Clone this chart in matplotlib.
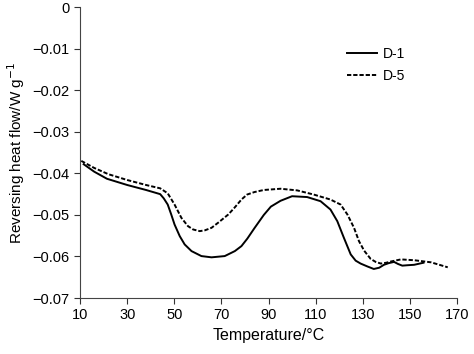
import matplotlib.pyplot as plt

plt.rcParams['font.family'] = ['Liberation Sans', 'DejaVu Sans']

# D-1 (solid)
tempD1 = [11.5, 16, 21.4, 30, 38, 44, 45.5, 47.2, 48.7, 50.1, 52.3, 54.4, 57.3, 61.5, 65.8,
          71.4, 75.7, 78.5, 81, 84, 88, 91, 95.1, 100, 106.4, 112.1, 116.3, 119.2, 122,
          124.9, 127, 129.1, 132, 134.7, 137, 139, 141, 143.3, 145, 146.8, 149, 151.8, 155.8]
flowD1 = [-0.0378, -0.0396, -0.0413, -0.0428, -0.0440, -0.0450, -0.0460, -0.0475, -0.0499, -0.0523,
          -0.0551, -0.0571, -0.0587, -0.0599, -0.0602,
          -0.0599, -0.0587, -0.0575, -0.0557, -0.0532, -0.0500, -0.0480, -0.0466, -0.0455, -0.0457,
          -0.0467, -0.0487, -0.0515, -0.0555,
          -0.0595, -0.0610, -0.0617, -0.0624, -0.0630, -0.0627, -0.0620, -0.0616, -0.0613, -0.0618,
          -0.0622, -0.0621, -0.0620, -0.0615]

# D-5 (dashed)
tempD5 = [10.5, 16, 22, 30, 38, 44, 47.2, 50.1, 53, 55.8, 58, 60.8, 63, 65.8, 69, 72.9, 75.5,
          78.5, 80.9, 84, 88, 95.1, 102.2, 109.2, 116.3, 120.6, 123.5, 126.3, 128.4, 130.6,
          133.4, 135.5, 137.7, 140, 142, 146.2, 151.9, 159, 166.1]
flowD5 = [-0.0370, -0.0387, -0.0402, -0.0416, -0.0428, -0.0436, -0.0448, -0.0475, -0.0507,
          -0.0527, -0.0535, -0.0539, -0.0537, -0.0531, -0.0517, -0.0499, -0.0483,
          -0.0463, -0.0451, -0.0445, -0.0440, -0.0437, -0.0441, -0.0451, -0.0463, -0.0475,
          -0.0499, -0.0531, -0.0563, -0.0586,
          -0.0606, -0.0613, -0.0617, -0.0615, -0.0612, -0.0607, -0.0609, -0.0614, -0.0626]

xTicks = [10, 30, 50, 70, 90, 110, 130, 150, 170]
yTicks = [0, -0.01, -0.02, -0.03, -0.04, -0.05, -0.06, -0.07]
yTickLabels = ["0", "\u22120.01", "\u22120.02", "\u22120.03", "\u22120.04", "\u22120.05", "\u22120.06", "\u22120.07"]

fig = plt.figure(figsize=(4.74, 3.54), dpi=100)
ax = fig.add_axes([0.169, 0.158, 0.795, 0.822])

ax.plot(tempD1, flowD1, color="black", linewidth=1.4, label="D-1")
ax.plot(tempD5, flowD5, color="black", linewidth=1.4, linestyle=(0, (2.2, 1.0)), label="D-5")

ax.set_xlim(10, 170)
ax.set_ylim(-0.07, 0)
ax.set_xticks(xTicks)
ax.set_yticks(yTicks)
ax.set_yticklabels(yTickLabels)
ax.tick_params(labelsize=10.5, length=4, width=0.8, colors="#333333", labelcolor="black")
ax.spines["top"].set_visible(False)
ax.spines["right"].set_visible(False)
ax.spines["left"].set_color("#444444")
ax.spines["bottom"].set_color("#444444")

ax.set_xlabel("Temperature/\u00b0C", fontsize=11.5, labelpad=4)
ax.set_ylabel("Reversing heat flow/W g$^{-1}$", fontsize=11, labelpad=4)

ax.legend(loc="upper left", bbox_to_anchor=(0.708, 0.862), frameon=False, fontsize=10,
          handlelength=2.2, handletextpad=0.4, labelspacing=0.55, borderaxespad=0, borderpad=0)

plt.savefig("out.png", dpi=100)
